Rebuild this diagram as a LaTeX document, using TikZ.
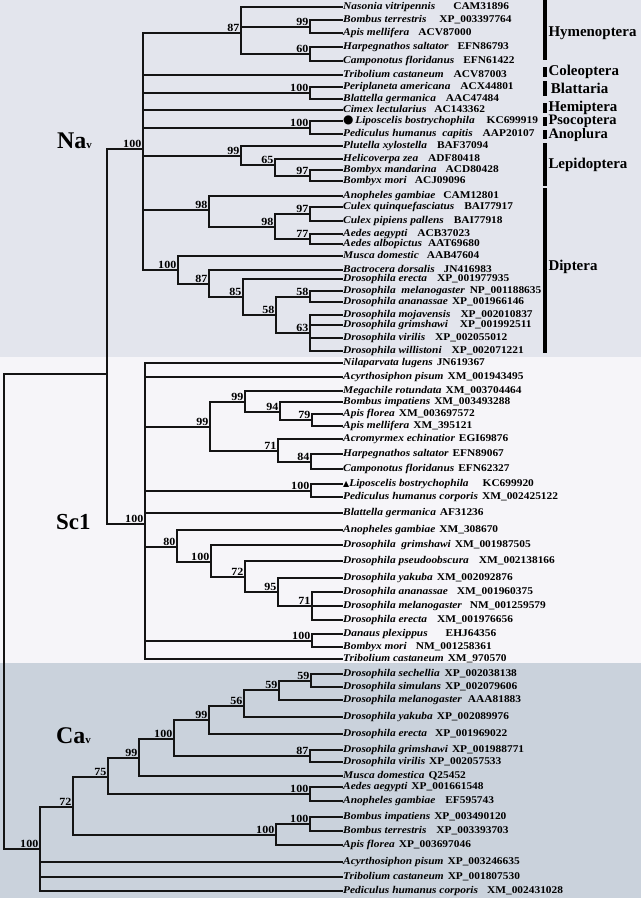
\documentclass[tikz,border=0pt]{standalone}
\usepackage{fontspec}
\setmainfont{Liberation Serif}
\newfontfamily\tipfont[FakeStretch=1.1]{Liberation Serif}
\newfontfamily\symfont{DejaVu Sans}

\definecolor{naband}{RGB}{227,229,237}
\definecolor{scband}{RGB}{246,245,249}
\definecolor{caband}{RGB}{202,210,220}

% taxon name, gap, accession number
\newcommand\leaf[3][4pt]{{\itshape #2}\hspace{#1}#3}

\tikzset{
  branch/.style={line width=2bp, draw=black!92, line cap=rect},
  tip/.style={anchor=west, inner sep=1pt, text height=7pt, text depth=2pt,
    font=\tipfont\bfseries\fontsize{10.4}{12}\selectfont},
  bs/.style={anchor=south east, inner sep=1pt, xshift=-0.5pt,
    font=\tipfont\bfseries\fontsize{11}{11}\selectfont},
  cbar/.style={line width=4bp},
  order/.style={right, inner sep=1.5pt, font=\bfseries\fontsize{15}{15}\selectfont},
  group/.style={anchor=base west, inner sep=0pt, font=\bfseries}
}

\begin{document}
\begin{tikzpicture}[x=1bp, y=-1bp]
  % background bands
  \fill[naband] (0,0) rectangle (641,357);
  \fill[scband] (0,357) rectangle (641,663);
  \fill[caband] (0,663) rectangle (641,898);
  \useasboundingbox (0,0) rectangle (641,898);

  % group labels
  \node[group] (lblna) at (57,148) {\fontsize{24}{24}\selectfont Na\fontsize{11}{11}\selectfont v};
  \node[group] (lblsc) at (56,529) {\fontsize{23}{23}\selectfont Sc1};
  \node[group] (lblca) at (56,743) {\fontsize{24}{24}\selectfont Ca\fontsize{11}{11}\selectfont v};

  % internal nodes
  \coordinate (root) at (4,611);
  \coordinate (nasc) at (107,374);
  \coordinate (na) at (143,149);
  \coordinate (hy87) at (241,33);
  \coordinate (hy99) at (310,27);
  \coordinate (hy60) at (310,54);
  \coordinate (bl100) at (310,93);
  \coordinate (ps100) at (310,128);
  \coordinate (le99) at (241,156);
  \coordinate (le65) at (275,165);
  \coordinate (le97) at (310,176);
  \coordinate (mo98) at (209,210);
  \coordinate (mo98b) at (275,227);
  \coordinate (mo97) at (310,214);
  \coordinate (mo77) at (310,239);
  \coordinate (fl100) at (178,270);
  \coordinate (fl87) at (209,284);
  \coordinate (fl85) at (243,297);
  \coordinate (fl58) at (276,315);
  \coordinate (fl58b) at (310,297);
  \coordinate (fl63) at (310,333);

  \coordinate (sc) at (145,524);
  \coordinate (sh99) at (210,427);
  \coordinate (sh99b) at (245,402);
  \coordinate (sh94) at (280,412);
  \coordinate (sh79) at (312,420);
  \coordinate (sh71) at (278,451);
  \coordinate (sh84) at (311,462);
  \coordinate (sp100) at (311,491);
  \coordinate (sd80) at (177,547);
  \coordinate (sd100) at (211,562);
  \coordinate (sd72) at (245,577);
  \coordinate (sd95) at (278,592);
  \coordinate (sd71) at (312,606);
  \coordinate (sl100) at (312,641);

  \coordinate (ca) at (40,849);
  \coordinate (ca72) at (73,807);
  \coordinate (ca75) at (108,777);
  \coordinate (ca99) at (139,758);
  \coordinate (ca100) at (174,739);
  \coordinate (ca99b) at (209,720);
  \coordinate (ca56) at (244,706);
  \coordinate (ca59) at (279,690);
  \coordinate (ca59b) at (311,681);
  \coordinate (ca87) at (310,756);
  \coordinate (caae) at (310,794);
  \coordinate (cabee) at (276,835);
  \coordinate (cabom) at (310,824);

  % Na tips
  \node[tip] (nvit) at (342,7) {\leaf[18pt]{Nasonia vitripennis}{CAM31896}};
  \node[tip] (bter) at (342,20) {\leaf[13pt]{Bombus terrestris}{XP\_003397764}};
  \node[tip] (amel) at (342,33) {\leaf[9pt]{Apis mellifera}{ACV87000}};
  \node[tip] (hsal) at (342,47) {\leaf[9pt]{Harpegnathos saltator}{EFN86793}};
  \node[tip] (cflo) at (342,61) {\leaf[9pt]{Camponotus floridanus}{EFN61422}};
  \node[tip] (tcas) at (342,75) {\leaf[10pt]{Tribolium castaneum}{ACV87003}};
  \node[tip] (pame) at (342,87) {\leaf[10pt]{Periplaneta americana}{ACX44801}};
  \node[tip] (bger) at (342,99) {\leaf[10pt]{Blattella germanica}{AAC47484}};
  \node[tip] (clec) at (342,110) {\leaf[8pt]{Cimex lectularius}{AC143362}};
  \node[tip] (lbos) at (342,121) {{\symfont\fontsize{12}{12}\selectfont ●}\,\leaf[12pt]{Liposcelis bostrychophila}{KC699919}};
  \node[tip] (phca) at (342,134) {\leaf[10pt]{Pediculus humanus\ \ capitis}{AAP20107}};
  \node[tip] (pxyl) at (342,146) {\leaf[10pt]{Plutella xylostella}{BAF37094}};
  \node[tip] (hzea) at (342,159) {\leaf[10pt]{Helicoverpa zea}{ADF80418}};
  \node[tip] (bman) at (342,170) {\leaf[9pt]{Bombyx mandarina}{ACD80428}};
  \node[tip] (bmor) at (342,181) {\leaf[8pt]{Bombyx mori}{ACJ09096}};
  \node[tip] (agam) at (342,196) {\leaf[8pt]{Anopheles gambiae}{CAM12801}};
  \node[tip] (cqui) at (342,207) {\leaf[10pt]{Culex quinquefasciatus}{BAI77917}};
  \node[tip] (cpip) at (342,221) {\leaf[10pt]{Culex pipiens pallens}{BAI77918}};
  \node[tip] (aaeg) at (342,234) {\leaf[10pt]{Aedes aegypti}{ACB37023}};
  \node[tip] (aalb) at (342,244) {\leaf[6pt]{Aedes albopictus}{AAT69680}};
  \node[tip] (mdom) at (342,256) {\leaf[8pt]{Musca domestic}{AAB47604}};
  \node[tip] (bdor) at (342,270) {\leaf[9pt]{Bactrocera dorsalis}{JN416983}};
  \node[tip] (dere) at (342,279) {\leaf[10pt]{Drosophila erecta}{XP\_001977935}};
  \node[tip] (dmel) at (342,291) {\leaf[5pt]{Drosophila\ \ melanogaster}{NP\_001188635}};
  \node[tip] (dana) at (342,302) {\leaf[4pt]{Drosophila ananassae}{XP\_001966146}};
  \node[tip] (dmoj) at (342,315) {\leaf[10pt]{Drosophila mojavensis}{XP\_002010837}};
  \node[tip] (dgri) at (342,325) {\leaf[12pt]{Drosophila grimshawi}{XP\_001992511}};
  \node[tip] (dvir) at (342,338) {\leaf[10pt]{Drosophila virilis}{XP\_002055012}};
  \node[tip] (dwil) at (342,351) {\leaf[10pt]{Drosophila willistoni}{XP\_002071221}};

  % Sc1 tips
  \node[tip] (snlu) at (342,363) {\leaf{Nilaparvata lugens}{JN619367}};
  \node[tip] (sapi) at (342,377) {\leaf{Acyrthosiphon pisum}{XM\_001943495}};
  \node[tip] (srot) at (342,391) {\leaf{Megachile rotundata}{XM\_003704464}};
  \node[tip] (simp) at (342,402) {\leaf{Bombus impatiens}{XM\_003493288}};
  \node[tip] (sflo) at (342,414) {\leaf{Apis florea}{XM\_003697572}};
  \node[tip] (smel) at (342,426) {\leaf{Apis mellifera}{XM\_395121}};
  \node[tip] (sech) at (342,439) {\leaf{Acromyrmex echinatior}{EGI69876}};
  \node[tip] (ssal) at (342,454) {\leaf{Harpegnathos saltator}{EFN89067}};
  \node[tip] (scfl) at (342,469) {\leaf{Camponotus floridanus}{EFN62327}};
  \node[tip] (slbo) at (342,484) {{\symfont\fontsize{8}{8}\selectfont ▲}\leaf[14pt]{Liposcelis bostrychophila}{KC699920}};
  \node[tip] (sphc) at (342,497) {\leaf{Pediculus humanus corporis}{XM\_002425122}};
  \node[tip] (sbge) at (342,513) {\leaf{Blattella germanica}{AF31236}};
  \node[tip] (sagm) at (342,530) {\leaf{Anopheles gambiae}{XM\_308670}};
  \node[tip] (sgri) at (342,545) {\leaf{Drosophila\ \ grimshawi}{XM\_001987505}};
  \node[tip] (spse) at (342,561) {\leaf[10pt]{Drosophila pseudoobscura}{XM\_002138166}};
  \node[tip] (syak) at (342,578) {\leaf{Drosophila yakuba}{XM\_002092876}};
  \node[tip] (sana) at (342,592) {\leaf[9pt]{Drosophila ananassae}{XM\_001960375}};
  \node[tip] (smeg) at (342,606) {\leaf[8pt]{Drosophila melanogaster}{NM\_001259579}};
  \node[tip] (sere) at (342,620) {\leaf[10pt]{Drosophila erecta}{XM\_001976656}};
  \node[tip] (sdpl) at (342,634) {\leaf[18pt]{Danaus plexippus}{EHJ64356}};
  \node[tip] (sbmo) at (342,647) {\leaf[9pt]{Bombyx mori}{NM\_001258361}};
  \node[tip] (stca) at (342,659) {\leaf{Tribolium castaneum}{XM\_970570}};

  % Ca tips
  \node[tip] (csec) at (342,674) {\leaf[5pt]{Drosophila sechellia}{XP\_002038138}};
  \node[tip] (csim) at (342,687) {\leaf{Drosophila simulans}{XP\_002079606}};
  \node[tip] (cmel) at (342,700) {\leaf[6pt]{Drosophila melanogaster}{AAA81883}};
  \node[tip] (cyak) at (342,717) {\leaf{Drosophila yakuba}{XP\_002089976}};
  \node[tip] (cere) at (342,734) {\leaf[8pt]{Drosophila erecta}{XP\_001969022}};
  \node[tip] (cgri) at (342,750) {\leaf{Drosophila grimshawi}{XP\_001988771}};
  \node[tip] (cvir) at (342,762) {\leaf{Drosophila virilis}{XP\_002057533}};
  \node[tip] (cmdo) at (342,776) {\leaf{Musca domestica}{Q25452}};
  \node[tip] (caeg) at (342,787) {\leaf{Aedes aegypti}{XP\_001661548}};
  \node[tip] (cagm) at (342,801) {\leaf[10pt]{Anopheles gambiae}{EF595743}};
  \node[tip] (cimp) at (342,817) {\leaf{Bombus impatiens}{XP\_003490120}};
  \node[tip] (cter) at (342,831) {\leaf[10pt]{Bombus terrestris}{XP\_003393703}};
  \node[tip] (cflr) at (342,845) {\leaf{Apis florea}{XP\_003697046}};
  \node[tip] (capi) at (342,862) {\leaf{Acyrthosiphon pisum}{XP\_003246635}};
  \node[tip] (ctca) at (342,877) {\leaf{Tribolium castaneum}{XP\_001807530}};
  \node[tip] (cphc) at (342,891) {\leaf[9pt]{Pediculus humanus corporis}{XM\_002431028}};

  % branches
  \draw[branch] (root) |- (nasc) (root) |- (ca);
  \draw[branch] (nasc) |- (na) (nasc) |- (sc);
  % Na clade
  \draw[branch] (na) |- (hy87) (na) |- (tcas.west) (na) |- (bl100) (na) |- (clec.west)
    (na) |- (ps100) (na) |- (le99) (na) |- (mo98) (na) |- (fl100);
  \draw[branch] (hy87) |- (nvit.west) (hy87) |- (hy99) (hy87) |- (hy60);
  \draw[branch] (hy99) |- (bter.west) (hy99) |- (amel.west);
  \draw[branch] (hy60) |- (hsal.west) (hy60) |- (cflo.west);
  \draw[branch] (bl100) |- (pame.west) (bl100) |- (bger.west);
  \draw[branch] (ps100) |- (lbos.west) (ps100) |- (phca.west);
  \draw[branch] (le99) |- (pxyl.west) (le99) |- (le65);
  \draw[branch] (le65) |- (hzea.west) (le65) |- (le97);
  \draw[branch] (le97) |- (bman.west) (le97) |- (bmor.west);
  \draw[branch] (mo98) |- (agam.west) (mo98) |- (mo98b);
  \draw[branch] (mo98b) |- (mo97) (mo98b) |- (mo77);
  \draw[branch] (mo97) |- (cqui.west) (mo97) |- (cpip.west);
  \draw[branch] (mo77) |- (aaeg.west) (mo77) |- (aalb.west);
  \draw[branch] (fl100) |- (mdom.west) (fl100) |- (fl87);
  \draw[branch] (fl87) |- (bdor.west) (fl87) |- (fl85);
  \draw[branch] (fl85) |- (dere.west) (fl85) |- (fl58);
  \draw[branch] (fl58) |- (fl58b) (fl58) |- (fl63);
  \draw[branch] (fl58b) |- (dmel.west) (fl58b) |- (dana.west);
  \draw[branch] (fl63) |- (dmoj.west) (fl63) |- (dgri.west) (fl63) |- (dvir.west) (fl63) |- (dwil.west);
  % Sc1 clade
  \draw[branch] (sc) |- (snlu.west) (sc) |- (sapi.west) (sc) |- (sh99) (sc) |- (sp100)
    (sc) |- (sbge.west) (sc) |- (sd80) (sc) |- (sl100) (sc) |- (stca.west);
  \draw[branch] (sh99) |- (sh99b) (sh99) |- (sh71);
  \draw[branch] (sh99b) |- (srot.west) (sh99b) |- (sh94);
  \draw[branch] (sh94) |- (simp.west) (sh94) |- (sh79);
  \draw[branch] (sh79) |- (sflo.west) (sh79) |- (smel.west);
  \draw[branch] (sh71) |- (sech.west) (sh71) |- (sh84);
  \draw[branch] (sh84) |- (ssal.west) (sh84) |- (scfl.west);
  \draw[branch] (sp100) |- (slbo.west) (sp100) |- (sphc.west);
  \draw[branch] (sd80) |- (sagm.west) (sd80) |- (sd100);
  \draw[branch] (sd100) |- (sgri.west) (sd100) |- (sd72);
  \draw[branch] (sd72) |- (spse.west) (sd72) |- (sd95);
  \draw[branch] (sd95) |- (syak.west) (sd95) |- (sd71);
  \draw[branch] (sd71) |- (sana.west) (sd71) |- (smeg.west) (sd71) |- (sere.west);
  \draw[branch] (sl100) |- (sdpl.west) (sl100) |- (sbmo.west);
  % Ca clade
  \draw[branch] (ca) |- (ca72) (ca) |- (capi.west) (ca) |- (ctca.west) (ca) |- (cphc.west);
  \draw[branch] (ca72) |- (ca75) (ca72) |- (cabee);
  \draw[branch] (ca75) |- (ca99) (ca75) |- (caae);
  \draw[branch] (ca99) |- (ca100) (ca99) |- (cmdo.west);
  \draw[branch] (ca100) |- (ca99b) (ca100) |- (ca87);
  \draw[branch] (ca99b) |- (ca56) (ca99b) |- (cere.west);
  \draw[branch] (ca56) |- (ca59) (ca56) |- (cyak.west);
  \draw[branch] (ca59) |- (ca59b) (ca59) |- (cmel.west);
  \draw[branch] (ca59b) |- (csec.west) (ca59b) |- (csim.west);
  \draw[branch] (ca87) |- (cgri.west) (ca87) |- (cvir.west);
  \draw[branch] (caae) |- (caeg.west) (caae) |- (cagm.west);
  \draw[branch] (cabee) |- (cabom) (cabee) |- (cflr.west);
  \draw[branch] (cabom) |- (cimp.west) (cabom) |- (cter.west);

  % bootstrap values
  \node[bs] (bna) at (na) {100};
  \node[bs] (bhy87) at (hy87) {87};
  \node[bs] (bhy99) at (hy99) {99};
  \node[bs] (bhy60) at (hy60) {60};
  \node[bs] (bbl100) at (bl100) {100};
  \node[bs] (bps100) at (ps100) {100};
  \node[bs] (ble99) at (le99) {99};
  \node[bs] (ble65) at (le65) {65};
  \node[bs] (ble97) at (le97) {97};
  \node[bs] (bmo98) at (mo98) {98};
  \node[bs] (bmo98b) at (mo98b) {98};
  \node[bs] (bmo97) at (mo97) {97};
  \node[bs] (bmo77) at (mo77) {77};
  \node[bs] (bfl100) at (fl100) {100};
  \node[bs] (bfl87) at (fl87) {87};
  \node[bs] (bfl85) at (fl85) {85};
  \node[bs] (bfl58) at (fl58) {58};
  \node[bs] (bfl58b) at (fl58b) {58};
  \node[bs] (bfl63) at (fl63) {63};
  \node[bs] (bsc) at (sc) {100};
  \node[bs] (bsh99) at (sh99) {99};
  \node[bs] (bsh99b) at (sh99b) {99};
  \node[bs] (bsh94) at (sh94) {94};
  \node[bs] (bsh79) at (sh79) {79};
  \node[bs] (bsh71) at (sh71) {71};
  \node[bs] (bsh84) at (sh84) {84};
  \node[bs] (bsp100) at (sp100) {100};
  \node[bs] (bsd80) at (sd80) {80};
  \node[bs] (bsd100) at (sd100) {100};
  \node[bs] (bsd72) at (sd72) {72};
  \node[bs] (bsd95) at (sd95) {95};
  \node[bs] (bsd71) at (sd71) {71};
  \node[bs] (bsl100) at (sl100) {100};
  \node[bs] (bca) at (ca) {100};
  \node[bs] (bca72) at (ca72) {72};
  \node[bs] (bca75) at (ca75) {75};
  \node[bs] (bca99) at (ca99) {99};
  \node[bs] (bca100) at (ca100) {100};
  \node[bs] (bca99b) at (ca99b) {99};
  \node[bs] (bca56) at (ca56) {56};
  \node[bs] (bca59) at (ca59) {59};
  \node[bs] (bca59b) at (ca59b) {59};
  \node[bs] (bca87) at (ca87) {87};
  \node[bs] (bcaae) at (caae) {100};
  \node[bs] (bcabee) at (cabee) {100};
  \node[bs] (bcabom) at (cabom) {100};

  % insect orders
  \draw[cbar] (545,0) -- (545,60) node[order, pos=0.55] (ohym) {Hymenoptera};
  \draw[cbar] (545,67) -- (545,77) node[order, midway] (ocol) {Coleoptera};
  \draw[cbar] (545,81) -- (545,96) node[order, midway] (obla) {\,Blattaria};
  \draw[cbar] (545,103) -- (545,113) node[order, midway] (ohem) {Hemiptera};
  \draw[cbar] (545,117) -- (545,126) node[order, midway, font=\bfseries\fontsize{14.5}{14.5}\selectfont] (opso) {Psocoptera};
  \draw[cbar] (545,130) -- (545,139) node[order, midway, yshift=-1pt, font=\bfseries\fontsize{14.5}{14.5}\selectfont] (oano) {Anoplura};
  \draw[cbar] (545,143) -- (545,186) node[order, midway] (olep) {Lepidoptera};
  \draw[cbar] (545,188) -- (545,353) node[order, pos=0.48] (odip) {Diptera};
\end{tikzpicture}
\end{document}
